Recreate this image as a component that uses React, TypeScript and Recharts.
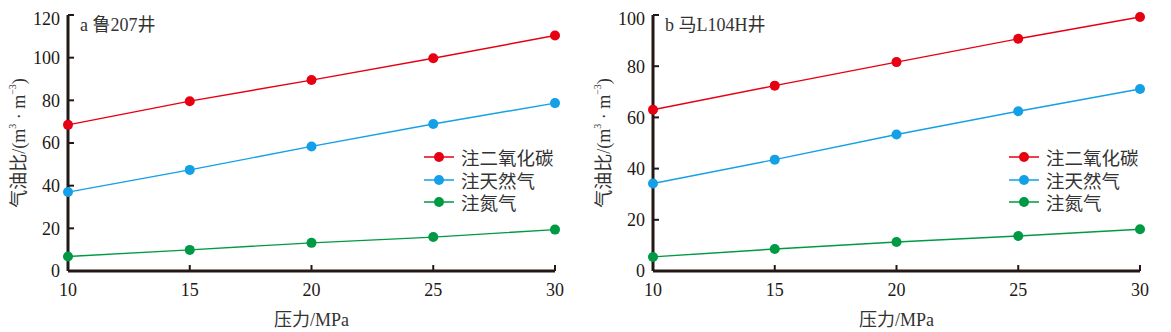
import React from 'react';
import { LineChart, Line, XAxis, YAxis, Legend, Label } from 'recharts';

const pressures = [10, 15, 20, 25, 30];

// 鲁207井
const luCO2 = [68.5, 79.6, 89.5, 99.7, 110.4];
const luGas = [37, 47.4, 58.4, 68.9, 78.7];
const luN2 = [6.8, 9.9, 13.2, 15.9, 19.4];

// 马L104H井
const maCO2 = [63, 72.4, 81.6, 90.7, 99.2];
const maGas = [34.2, 43.5, 53.3, 62.4, 71.1];
const maN2 = [5.5, 8.6, 11.3, 13.7, 16.3];

const luTicks = [0, 20, 40, 60, 80, 100, 120];
const maTicks = [0, 20, 40, 60, 80, 100];
const xTicks = [10, 15, 20, 25, 30];

const seriesNames = ['注二氧化碳', '注天然气', '注氮气'];
const colors = ['#e60012', '#13a0e6', '#009944'];

const FONT = '"Liberation Serif", "Noto Sans CJK SC", serif';
const INK = '#231815';

const build = (a: number[], b: number[], c: number[]) =>
  pressures.map((p, i) => ({ p, s0: a[i], s1: b[i], s2: c[i] }));

const YLabel = (props: any) => {
  const vb = props.viewBox;
  const cx = vb.x + 9;
  const cy = vb.y + vb.height / 2;
  return (
    <text
      x={cx}
      y={cy}
      transform={`rotate(-90, ${cx}, ${cy})`}
      textAnchor="middle"
      dominantBaseline="central"
      fontFamily={FONT}
      fontSize={18}
      fill="#333"
    >
      气油比/(m<tspan dy={-7} fontSize={10}>3</tspan>
      <tspan dy={7}> · m</tspan>
      <tspan dy={-7} fontSize={10}>−3</tspan>
      <tspan dy={7}>)</tspan>
    </text>
  );
};

const LegendBox = () => (
  <div style={{ fontFamily: FONT, fontSize: 18.5, color: '#333' }}>
    {seriesNames.map((n, i) => (
      <div key={n} style={{ display: 'flex', alignItems: 'center', height: 22.5 }}>
        <svg width={30} height={12} style={{ marginRight: 7 }}>
          <line x1={0} y1={6} x2={30} y2={6} stroke={colors[i]} strokeWidth={1.5} />
          <circle cx={15} cy={6} r={5} fill={colors[i]} />
        </svg>
        <span>{n}</span>
      </div>
    ))}
  </div>
);

const Panel = ({ title, data, ticks, max }: { title: string; data: any[]; ticks: number[]; max: number }) => (
  <div style={{ position: 'relative', width: 585, height: 324 }}>
    <LineChart width={585} height={324} data={data} margin={{ top: 7, right: 38, bottom: 5, left: 2 }}>
      <XAxis
        dataKey="p"
        type="number"
        domain={[10, 30]}
        ticks={xTicks}
        height={56}
        axisLine={{ stroke: INK, strokeWidth: 3 }}
        tickLine={{ stroke: INK, strokeWidth: 2 }}
        tickSize={-6}
        tickMargin={18}
        tick={{ fill: INK, fontFamily: FONT, fontSize: 18 }}
      >
        <Label value="压力/MPa" position="insideBottom" offset={1} fill="#333" fontFamily={FONT} fontSize={18} />
      </XAxis>
      <YAxis
        type="number"
        domain={[0, max]}
        ticks={ticks}
        width={58}
        axisLine={{ stroke: INK, strokeWidth: 3 }}
        tickLine={{ stroke: INK, strokeWidth: 2 }}
        tickSize={-6}
        tickMargin={14}
        tick={{ fill: INK, fontFamily: FONT, fontSize: 18 }}
        label={<YLabel />}
      />
      <Legend
        layout="vertical"
        align="center"
        verticalAlign="middle"
        content={<LegendBox />}
        wrapperStyle={{ left: 416, top: 138, width: 165 }}
      />
      {['s0', 's1', 's2'].map((k, i) => (
        <Line
          key={k}
          dataKey={k}
          stroke={colors[i]}
          strokeWidth={1.4}
          dot={{ r: 5, fill: colors[i], stroke: 'none' }}
          activeDot={false}
          isAnimationActive={false}
        />
      ))}
    </LineChart>
    <div
      style={{
        position: 'absolute',
        left: 72,
        top: 2,
        fontFamily: FONT,
        fontSize: 18,
        color: '#333',
      }}
    >
      {title}
    </div>
  </div>
);

export default function App() {
  return (
    <div style={{ display: 'flex', width: 1170 }}>
      <Panel title="a 鲁207井" data={build(luCO2, luGas, luN2)} ticks={luTicks} max={120} />
      <Panel title="b 马L104H井" data={build(maCO2, maGas, maN2)} ticks={maTicks} max={100} />
    </div>
  );
}
